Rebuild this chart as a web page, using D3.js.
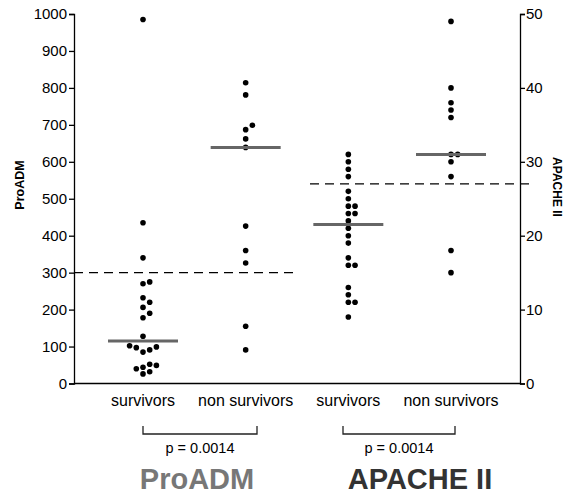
<!DOCTYPE html>
<html>
<head>
<meta charset="utf-8">
<script src="https://cdn.jsdelivr.net/npm/d3@7"></script>
<style>
    body { margin: 0; background: #fff; }
    svg text { font-family: "Liberation Sans", Arial, Helvetica, sans-serif; }
    .axis path, .axis line { stroke: #000; stroke-width: 1.3; }
    .axis text { font-size: 15px; fill: #000; }
</style>
</head>
<body>
<svg id="chart" width="572" height="496"></svg>
<script>
// data
var groups = ["proadm_surv", "proadm_non", "apache_surv", "apache_non"];
var groupLabels = ["survivors", "non survivors", "survivors", "non survivors"];
var proadmSurvivors = [985, 435, 340, 275, 270, 232, 220, 206, 190, 178, 128, 102, 99, 97, 91, 85, 52, 49, 44, 40, 32, 26];
var proadmNonSurvivors = [814, 781, 699, 687, 662, 639, 426, 360, 326, 155, 91];
var apacheSurvivors = [31, 30, 29, 28, 26, 25, 24, 24, 23, 23, 22, 21, 20, 19, 17, 16, 16, 13, 12, 11, 11, 9];
var apacheNonSurvivors = [49, 40, 38, 37, 36, 31, 31, 30, 28, 18, 15];
var proadmCutoff = 300;
var apacheCutoff = 27;
var proadmTicks = d3.range(0, 1001, 100);
var apacheTicks = d3.range(0, 51, 10);
var pLabels = ["p = 0.0014", "p = 0.0014"];
var scoreLabels = ["ProADM", "APACHE II"];

var FONT = '"Liberation Sans", Arial, Helvetica, sans-serif';
var svg = d3.select("#chart");

var axisLeftX = 74, axisRightX = 520,
    yBottom = 383.5, yTop = 14,
    dotR = 2.8, dotStep = 6.7;

var yL = d3.scaleLinear().domain([0, 1000]).range([yBottom, yTop]);
var yR = d3.scaleLinear().domain([0, 50]).range([yBottom, yTop]);
var x = d3.scalePoint().domain(groups).range([143, 451]);

var series = [
    {key: "proadm_surv", values: proadmSurvivors, y: yL},
    {key: "proadm_non", values: proadmNonSurvivors, y: yL},
    {key: "apache_surv", values: apacheSurvivors, y: yR},
    {key: "apache_non", values: apacheNonSurvivors, y: yR}
];

// simple beeswarm: push colliding dots sideways
function swarm(values, y) {
    var placed = [];
    var order = [0, 1, -1, 2, -2, 3, -3];
    values.slice().sort(d3.ascending).forEach(function (v) {
        var py = y(v);
        for (var i = 0; i < order.length; i++) {
            var px = order[i] * dotStep;
            var hit = placed.some(function (p) {
                return Math.hypot(p.dx - px, p.py - py) < 6.65;
            });
            if (!hit) {
                placed.push({value: v, dx: px, py: py});
                break;
            }
        }
    });
    return placed;
}

// cutoff lines
svg.append("line")
    .attr("x1", axisLeftX).attr("x2", 293)
    .attr("y1", yL(proadmCutoff)).attr("y2", yL(proadmCutoff))
    .attr("stroke", "#000").attr("stroke-width", 1.3)
    .attr("stroke-dasharray", "9,6");

svg.append("line")
    .attr("x1", 310).attr("x2", 531)
    .attr("y1", yR(apacheCutoff)).attr("y2", yR(apacheCutoff))
    .attr("stroke", "#000").attr("stroke-width", 1.3)
    .attr("stroke-dasharray", "9,6");

// dots and medians
series.forEach(function (s) {
    var cx = x(s.key);
    svg.append("g").selectAll("circle")
        .data(swarm(s.values, s.y))
        .enter().append("circle")
        .attr("cx", function (d) { return cx + d.dx; })
        .attr("cy", function (d) { return d.py; })
        .attr("r", dotR)
        .attr("fill", "#000");

    var med = d3.median(s.values);
    svg.append("line")
        .attr("x1", cx - 35).attr("x2", cx + 35)
        .attr("y1", s.y(med)).attr("y2", s.y(med))
        .attr("stroke", "#666").attr("stroke-width", 3);
});

// axes
var leftAxis = svg.append("g")
    .attr("class", "axis")
    .attr("transform", "translate(" + axisLeftX + ",0)");
leftAxis.call(d3.axisLeft(yL).tickValues(d3.range(0, 1001, 20)).tickSize(3).tickFormat(""));
leftAxis.call(d3.axisLeft(yL).tickValues(proadmTicks).tickSize(5).tickPadding(2).tickFormat(d3.format("d")));

var rightAxis = svg.append("g")
    .attr("class", "axis")
    .attr("transform", "translate(" + axisRightX + ",0)");
rightAxis.call(d3.axisRight(yR).tickValues(d3.range(0, 51, 2)).tickSize(3).tickFormat(""));
rightAxis.call(d3.axisRight(yR).tickValues(apacheTicks).tickSize(5).tickPadding(1).tickFormat(d3.format("d")));

svg.selectAll(".axis").attr("font-family", FONT);
svg.selectAll(".axis .domain").attr("fill", "none");

svg.append("line")
    .attr("x1", axisLeftX).attr("x2", axisRightX)
    .attr("y1", yBottom).attr("y2", yBottom)
    .attr("stroke", "#000").attr("stroke-width", 1.3);

// axis titles
svg.append("text")
    .attr("transform", "translate(24,185) rotate(-90)")
    .attr("text-anchor", "middle")
    .style("font-size", "12.5px").style("font-weight", "bold")
    .text("ProADM");

svg.append("text")
    .attr("transform", "translate(553,187) rotate(90)")
    .attr("text-anchor", "middle")
    .style("font-size", "12px").style("font-weight", "bold")
    .text("APACHE II");

// category labels
svg.append("g").selectAll("text")
    .data(groups)
    .enter().append("text")
    .attr("x", function (d) { return x(d); })
    .attr("y", 406)
    .attr("text-anchor", "middle")
    .style("font-size", "16px")
    .text(function (d, i) { return groupLabels[i]; });

// brackets + p values
var brackets = [[143, 257], [343, 455]];
brackets.forEach(function (b, i) {
    svg.append("path")
        .attr("d", "M" + b[0] + ",426V434H" + b[1] + "V426")
        .attr("fill", "none").attr("stroke", "#222").attr("stroke-width", 1.3);
    svg.append("text")
        .attr("x", (b[0] + b[1]) / 2).attr("y", 453)
        .attr("text-anchor", "middle")
        .style("font-size", "14.5px")
        .text(pLabels[i]);
});

// big score labels
svg.append("text")
    .attr("x", 197).attr("y", 489)
    .attr("text-anchor", "middle")
    .style("font-size", "29px").style("font-weight", "bold").attr("fill", "#777")
    .text(scoreLabels[0]);

svg.append("text")
    .attr("x", 420).attr("y", 489)
    .attr("text-anchor", "middle")
    .style("font-size", "29px").style("font-weight", "bold").attr("fill", "#333")
    .text(scoreLabels[1]);
</script>
</body>
</html>
